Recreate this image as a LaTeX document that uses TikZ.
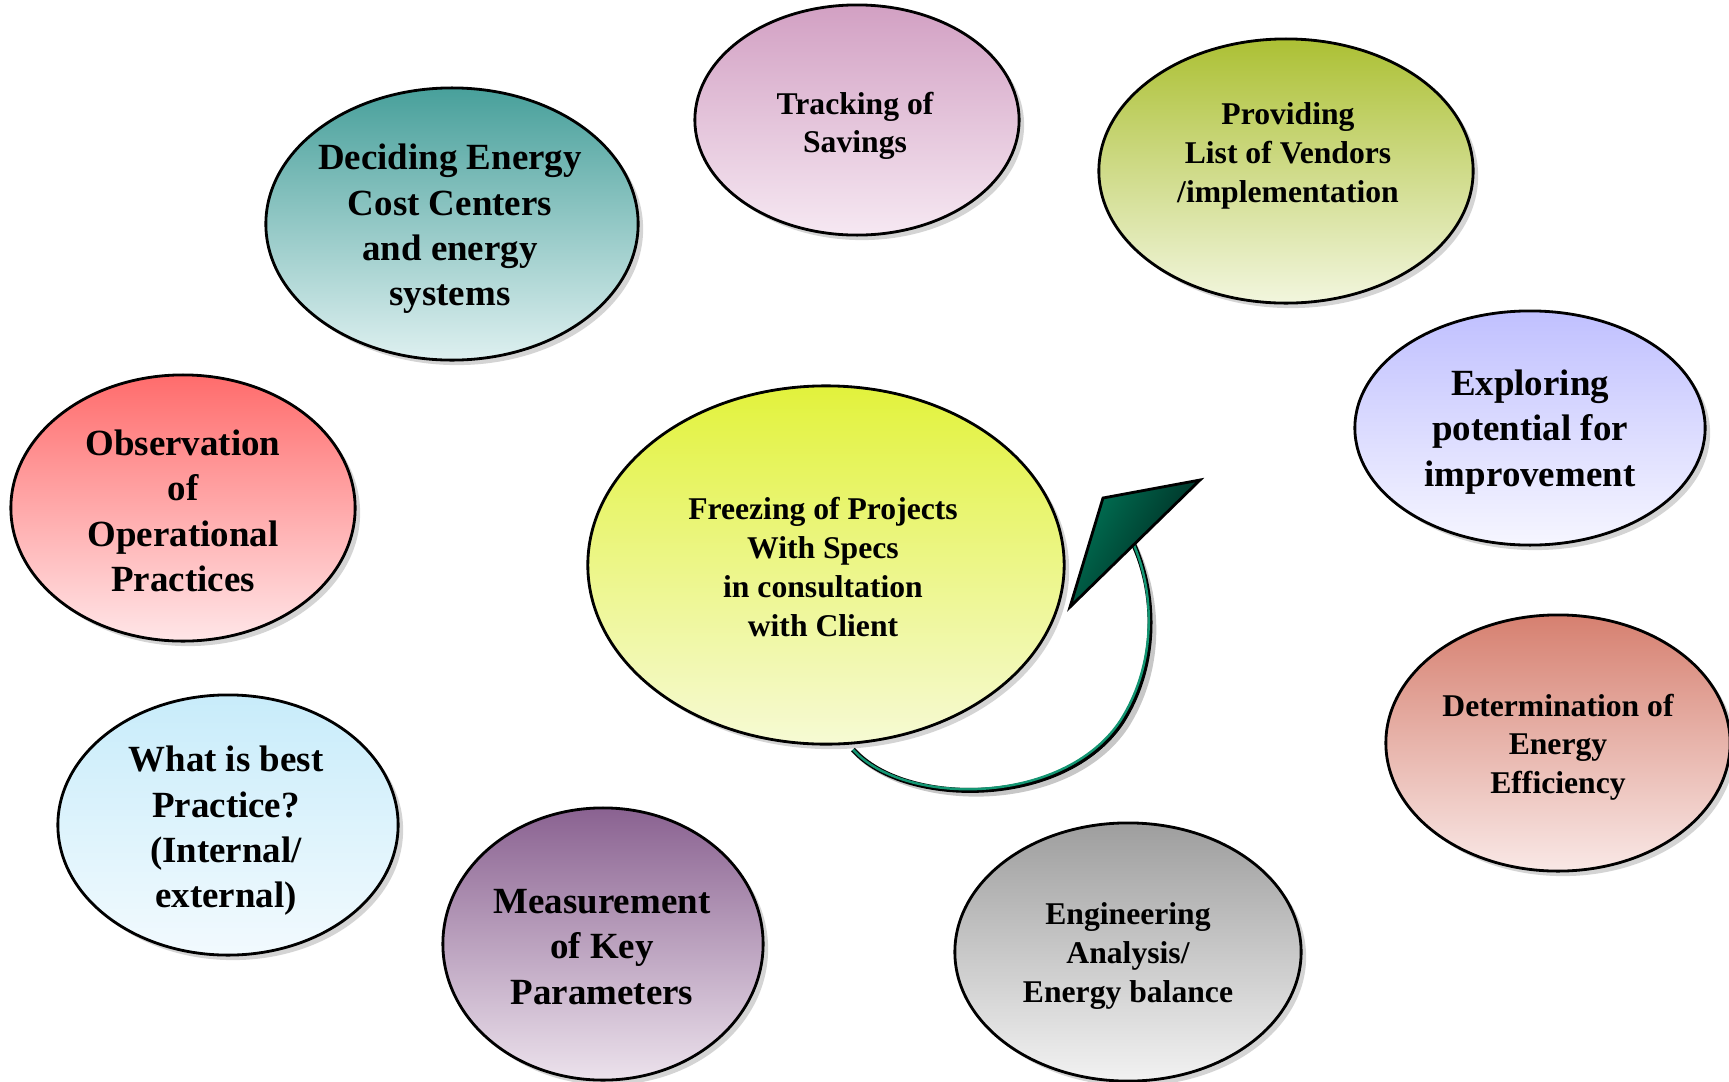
\documentclass[tikz,border=0pt]{standalone}
\usepackage{fontspec}
\setmainfont{Liberation Serif}
\usetikzlibrary{shapes.geometric,shadows,calc}

% top / bottom gradient colours of each bubble
\definecolor{trackT}{RGB}{210,160,195}\definecolor{trackB}{RGB}{246,232,242}
\definecolor{provT}{RGB}{172,192,52}\definecolor{provB}{RGB}{242,246,222}
\definecolor{decT}{RGB}{72,160,155}\definecolor{decB}{RGB}{222,240,240}
\definecolor{expT}{RGB}{192,192,255}\definecolor{expB}{RGB}{246,246,255}
\definecolor{obsT}{RGB}{255,108,108}\definecolor{obsB}{RGB}{255,230,232}
\definecolor{frzT}{RGB}{226,242,60}\definecolor{frzB}{RGB}{246,250,212}
\definecolor{detT}{RGB}{214,128,112}\definecolor{detB}{RGB}{249,232,230}
\definecolor{bestT}{RGB}{200,236,250}\definecolor{bestB}{RGB}{242,250,254}
\definecolor{measT}{RGB}{138,98,145}\definecolor{measB}{RGB}{236,226,236}
\definecolor{engT}{RGB}{158,158,158}\definecolor{engB}{RGB}{242,242,242}
\definecolor{arrowA}{RGB}{0,115,85}\definecolor{arrowB}{RGB}{0,30,25}
\definecolor{bandC}{RGB}{20,150,115}

\tikzset{
  bubble/.style n args={4}{ellipse, inner sep=0pt, draw=black, line width=0.8pt,
    minimum width=#1*0.02cm, minimum height=#2*0.02cm,
    top color=#3, bottom color=#4,
    drop shadow={shadow xshift=0.05cm, shadow yshift=-0.05cm, fill=black!28, opacity=0.6}},
  bigtxt/.style={align=center, font=\fontsize{10.5}{12.9}\selectfont\bfseries, inner sep=0pt},
  midtxt/.style={align=center, font=\fontsize{9}{11}\selectfont\bfseries, inner sep=0pt},
}

\begin{document}
\begin{tikzpicture}[x=0.01cm, y=-0.01cm]
\useasboundingbox (0,0) rectangle (1729,1081);
\clip (0,0) rectangle (1729,1081);

% bubbles
\node[bubble={162}{115}{trackT}{trackB}] (track) at (857,120) {};
\node[bubble={187}{132}{provT}{provB}] (prov) at (1286,171) {};
\node[bubble={186}{136}{decT}{decB}] (decide) at (452,224) {};
\node[bubble={175}{117}{expT}{expB}] (explore) at (1530,428) {};
\node[bubble={172}{133}{obsT}{obsB}] (observe) at (183,508) {};
\node[bubble={238}{179}{frzT}{frzB}] (freeze) at (826,565) {};
\node[bubble={172}{128}{detT}{detB}] (determ) at (1558,743) {};
\node[bubble={170}{130}{bestT}{bestB}] (best) at (228,825) {};
\node[bubble={160}{136}{measT}{measB}] (measure) at (603,944) {};
\node[bubble={173}{129}{engT}{engB}] (engin) at (1128,952) {};

% captions
\node[midtxt] (track-t) at (855,126) {Tracking of\\Savings};
\node[midtxt] (prov-t) at (1288,156) {Providing\\List of Vendors\\/implementation};
\node[bigtxt] (decide-t) at (450,229) {Deciding Energy\\Cost Centers\\and energy\\systems};
\node[bigtxt] (explore-t) at (1530,432) {Exploring\\potential for\\improvement};
\node[bigtxt] (observe-t) at (183,511) {Observation\\of\\Operational\\Practices};
\node[midtxt] (freeze-t) at (823,567) {Freezing of Projects\\With Specs\\in consultation\\with Client};
\node[midtxt] (determ-t) at (1558,747) {Determination of\\Energy\\Efficiency};
\node[bigtxt] (best-t) at (226,831) {What is best\\Practice?\\(Internal/\\external)};
\node[bigtxt] (measure-t) at (602,947) {Measurement\\of Key\\Parameters};
\node[midtxt] (engin-t) at (1128,956) {Engineering\\Analysis/\\Energy balance};

% curved return arrow
\coordinate (a0) at ($(freeze.south)+(27,4)$);
\coordinate (a1) at (1133,543);
\coordinate (h1) at (1103,498);
\coordinate (h2) at (1200,480);
\coordinate (h3) at (1070,607);
\def\bandpath{(a0) .. controls (905,808) and (1065,808) .. (1122,722)
       .. controls (1160,662) and (1155,590) .. (a1)}
\draw[black!22, line width=1.6pt, shift={(4,4)}] \bandpath;
\draw[black, line width=1.4pt] \bandpath;
\draw[bandC, line width=0.7pt, shift={(-1.5,-1.5)}] \bandpath;
\fill[black!25, shift={(4,4)}] (h1) -- (h2) -- (h3) -- cycle;
\draw[line width=0.8pt, left color=arrowA, right color=arrowB, shading angle=60]
  (h1) -- (h2) -- (h3) -- cycle;
\end{tikzpicture}
\end{document}
